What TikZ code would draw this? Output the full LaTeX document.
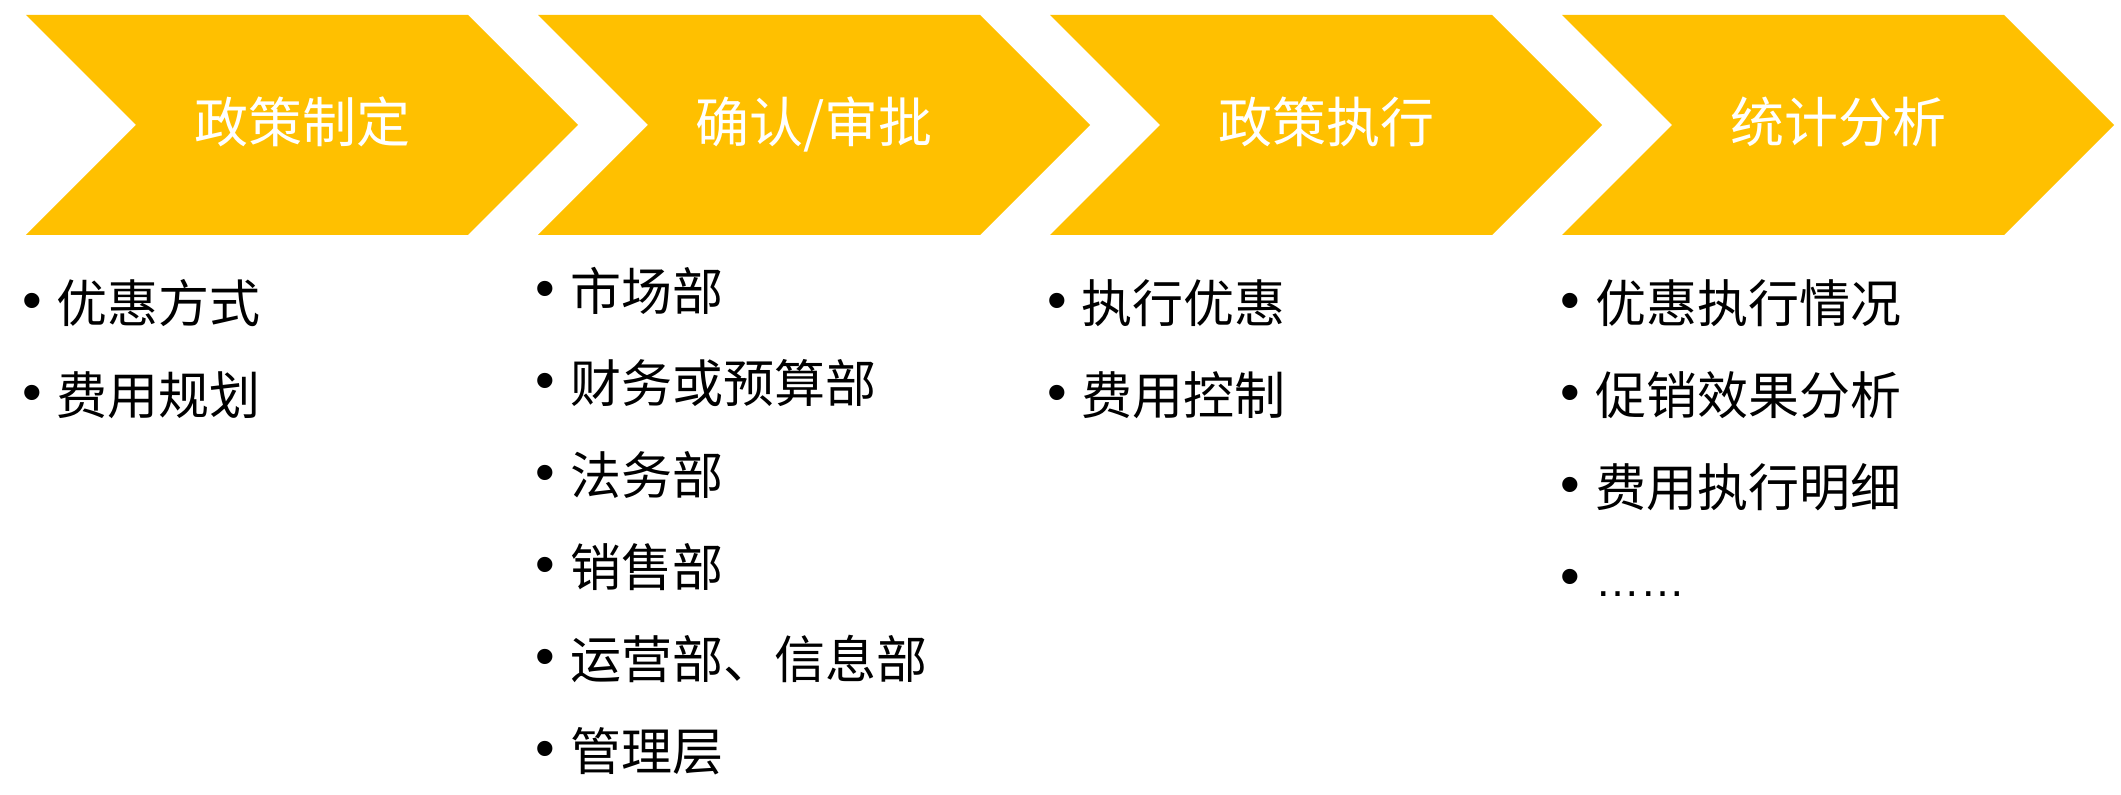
\documentclass[tikz,border=0pt]{standalone}
\usepackage{fontspec}
\setmainfont{Noto Sans CJK SC}
\newfontfamily\latinf{Liberation Sans}
\definecolor{gold}{HTML}{FFC000}
\begin{document}
\begin{tikzpicture}[x=0.5pt,y=-0.5pt,
  chev/.style={fill=gold, draw=none},
  title/.style={text=white, font=\fontsize{27}{30}\selectfont, inner sep=0pt, anchor=base},
  item/.style={font=\fontsize{25.5}{28}\selectfont, inner sep=0pt, anchor=base west},
  bul/.style={font=\latinf\fontsize{28}{30}\selectfont, inner sep=0pt, anchor=base},
]
\useasboundingbox (0,0) rectangle (2121,795);
\fill[white] (0,0) rectangle (2121,795);
% chevrons
\foreach \L in {26,538,1050,1562}{
  \fill[chev] (\L,15) -- ({\L+442},15) -- ({\L+552},125) -- ({\L+442},235) -- (\L,235) -- ({\L+110},125) -- cycle;
}
% titles
\node[title] (t1) at (302,143) {政策制定};
\node[title] (t2) at (814,143) {确认/审批};
\node[title] (t3) at (1326,143) {政策执行};
\node[title] (t4) at (1838,143) {统计分析};
% column 1
\foreach \t [count=\i] in {优惠方式,费用规划}{
  \node[bul] (b1\i) at (32,{320+92*(\i-1)}) {•};
  \node[item] (a1\i) at (56,{323+92*(\i-1)}) {\t};
}
% column 2
\foreach \t [count=\i] in {市场部,财务或预算部,法务部,销售部,运营部、信息部,管理层}{
  \node[bul] (b2\i) at (545,{308+92*(\i-1)}) {•};
  \node[item] (a2\i) at (570,{311+92*(\i-1)}) {\t};
}
% column 3
\foreach \t [count=\i] in {执行优惠,费用控制}{
  \node[bul] (b3\i) at (1057,{320+92*(\i-1)}) {•};
  \node[item] (a3\i) at (1081,{323+92*(\i-1)}) {\t};
}
% column 4
\foreach \t [count=\i] in {优惠执行情况,促销效果分析,费用执行明细}{
  \node[bul] (b4\i) at (1570,{320+92*(\i-1)}) {•};
  \node[item] (a4\i) at (1595,{323+92*(\i-1)}) {\t};
}
\node[bul] (b44) at (1570,596) {•};
\node[item, font=\latinf\fontsize{22.5}{26}\selectfont] (a44) at (1595,597) {……};
\end{tikzpicture}
\end{document}
